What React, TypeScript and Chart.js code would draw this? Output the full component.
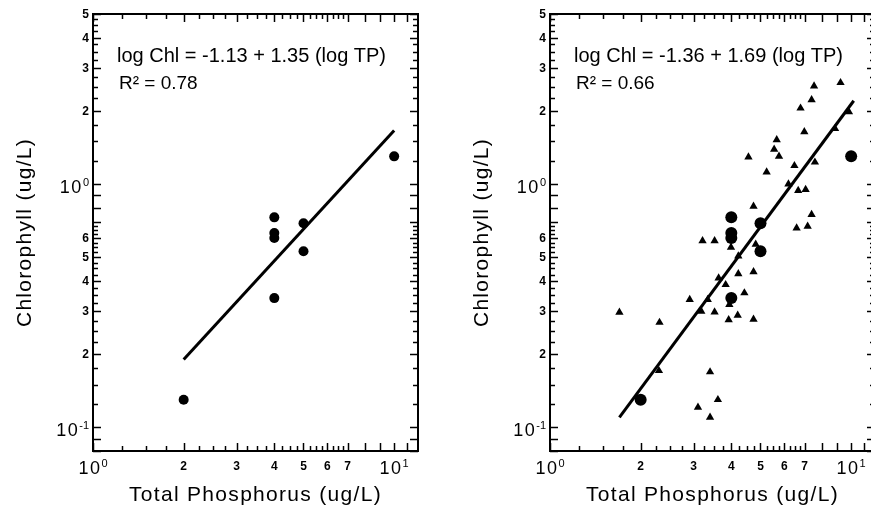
import React, { useEffect, useRef } from "react";
import { Chart, registerables } from "chart.js";
Chart.register(...registerables);

const FONT = '"Liberation Sans", Arial, Helvetica, sans-serif';

// ---- data ----
// circles (same lakes in both panels)
const studyTP = [2, 4, 4, 4, 5, 5, 4, 10];
const studyChl = [0.13, 0.73, 0.63, 0.6, 0.69, 0.53, 0.34, 1.3];

// triangles (right panel only)
const otherTP = [
  7.53, 9.22, 7.39, 6.79, 9.83, 8.84, 6.99, 5.66, 5.55, 5.76, 4.56, 6.48, 7.58, 5.24, 6.19,
  6.67, 7.06, 4.74, 7.39, 7.17, 6.59, 3.21, 3.52, 3.99, 4.82, 4.22, 3.63, 3.83, 4.22, 4.74,
  4.42, 2.91, 3.34, 3.18, 3.52, 3.92, 4.2, 4.74, 1.7, 2.31, 2.3, 3.4, 3.61, 3.1, 3.4, 3.94,
];
const otherChl = [
  2.53, 2.61, 2.22, 2.05, 1.98, 1.69, 1.64, 1.52, 1.39, 1.3, 1.29, 1.19, 1.23, 1.12, 1.0,
  0.94, 0.95, 0.81, 0.75, 0.67, 0.66, 0.585, 0.585, 0.55, 0.565, 0.506, 0.411, 0.386, 0.428, 0.436,
  0.357, 0.335, 0.335, 0.3, 0.298, 0.277, 0.289, 0.278, 0.297, 0.27, 0.171, 0.169, 0.13, 0.121, 0.11, 0.32,
];

// regression lines (end points)
const fitLeftTP = [2, 10];
const fitLeftChl = [0.19, 1.66];
const fitRightTP = [1.7, 10.2];
const fitRightChl = [0.11, 2.2];

// ---- axes ----
const xAxisMin = 1;
const xAxisMax = 12;
const yAxisMin = 0.08;
const yAxisMax = 5;
const xTickValues = [1, 2, 3, 4, 5, 6, 7, 10];
const xTickLabels = ["10^0", "2", "3", "4", "5", "6", "7", "10^1"];
const yTickValues = [0.1, 0.2, 0.3, 0.4, 0.5, 0.6, 1, 2, 3, 4, 5];
const yTickLabels = ["10^-1", "2", "3", "4", "5", "6", "10^0", "2", "3", "4", "5"];
const tickMantissas = [
  1, 1.25, 1.5, 1.75, 2, 2.25, 2.5, 2.75, 3, 3.25, 3.5, 3.75, 4, 4.25, 4.5, 4.75, 5, 5.25,
  5.5, 5.75, 6, 6.25, 6.5, 6.75, 7, 8, 9,
];
const xTickDecades = [1, 10];
const yTickDecades = [0.01, 0.1, 1];
const xExtraTicks = [11];

const xTitle = "Total Phosphorus (ug/L)";
const yTitle = "Chlorophyll (ug/L)";
const leftEquation = "log Chl = -1.13 + 1.35 (log TP)";
const leftR2 = "R\u00B2 = 0.78";
const rightEquation = "log Chl = -1.36 + 1.69 (log TP)";
const rightR2 = "R\u00B2 = 0.66";

type PanelProps = {
  left: number;
  equation: string;
  r2: string;
  fitTP: number[];
  fitChl: number[];
  showOther: boolean;
  circleRadius: number;
};

function tickMarkValues(decades: number[], min: number, max: number, extra: number[]) {
  const out: { v: number; major: boolean }[] = [];
  for (const d of decades)
    for (const m of tickMantissas) {
      const v = m * d;
      if (v >= min * 0.999 && v <= max * 1.001) out.push({ v, major: Number.isInteger(m) });
    }
  for (const v of extra) if (v >= min && v <= max) out.push({ v, major: true });
  return out;
}

function makePlugin(p: PanelProps) {
  return {
    id: "frameAndText",
    afterDatasetsDraw(chart: any) {
      const ctx: CanvasRenderingContext2D = chart.ctx;
      const c: any = ctx;
      const { left, right, top, bottom } = chart.chartArea;
      const xs = chart.scales.x;
      const ys = chart.scales.y;
      ctx.save();
      ctx.strokeStyle = "#000";
      ctx.fillStyle = "#000";
      ctx.lineWidth = 2;
      ctx.strokeRect(left, top, right - left, bottom - top);

      ctx.lineWidth = 1.5;
      const seg = (x1: number, y1: number, x2: number, y2: number) => {
        ctx.beginPath();
        ctx.moveTo(x1, y1);
        ctx.lineTo(x2, y2);
        ctx.stroke();
      };
      for (const t of tickMarkValues(xTickDecades, xAxisMin, xAxisMax, xExtraTicks)) {
        const px = Math.round(xs.getPixelForValue(t.v)) + 0.5;
        const len = t.major ? 8 : 5;
        seg(px, bottom, px, bottom - len);
        seg(px, top, px, top + len);
      }
      for (const t of tickMarkValues(yTickDecades, yAxisMin, yAxisMax, [])) {
        const py = Math.round(ys.getPixelForValue(t.v)) + 0.5;
        const len = t.major ? 8 : 5;
        seg(left, py, left + len, py);
        seg(right, py, right - len, py);
      }

      // tick labels
      const bigFont = `18px ${FONT}`;
      const expFont = `11px ${FONT}`;
      const smallFont = `bold 12px ${FONT}`;
      ctx.textBaseline = "alphabetic";
      xTickValues.forEach((v, i) => {
        const px = xs.getPixelForValue(v);
        const lab = xTickLabels[i];
        if (lab.includes("^")) {
          const [base, exp] = lab.split("^");
          c.letterSpacing = "1.5px";
          ctx.font = bigFont;
          const wb = ctx.measureText(base).width;
          c.letterSpacing = "0px";
          ctx.font = expFont;
          const we = ctx.measureText(exp).width;
          const start = px - (wb + we) / 2;
          ctx.textAlign = "left";
          c.letterSpacing = "1.5px";
          ctx.font = bigFont;
          ctx.fillText(base, start, bottom + 23);
          c.letterSpacing = "0px";
          ctx.font = expFont;
          ctx.fillText(exp, start + wb, bottom + 16);
        } else {
          ctx.font = smallFont;
          ctx.textAlign = "center";
          ctx.fillText(lab, px, bottom + 19);
        }
      });
      yTickValues.forEach((v, i) => {
        const py = ys.getPixelForValue(v);
        const lab = yTickLabels[i];
        const rx = left - 4;
        if (lab.includes("^")) {
          const [base, exp] = lab.split("^");
          ctx.font = expFont;
          const we = ctx.measureText(exp).width;
          ctx.textAlign = "right";
          ctx.fillText(exp, rx, py + 2);
          c.letterSpacing = "1.5px";
          ctx.font = bigFont;
          ctx.fillText(base, rx - we, py + 9);
          c.letterSpacing = "0px";
        } else {
          ctx.font = smallFont;
          ctx.textAlign = "right";
          ctx.fillText(lab, rx, py + 4);
        }
      });

      // axis titles
      c.letterSpacing = "1.3px";
      ctx.font = `21px ${FONT}`;
      ctx.textAlign = "center";
      ctx.fillText(xTitle, (left + right) / 2, bottom + 50);
      ctx.save();
      ctx.translate(left - 62, (top + bottom) / 2);
      ctx.rotate(-Math.PI / 2);
      ctx.fillText(yTitle, 0, 0);
      ctx.restore();
      c.letterSpacing = "0px";

      // equation text
      ctx.textAlign = "left";
      ctx.font = `20px ${FONT}`;
      ctx.fillText(p.equation, left + 24, top + 48);
      ctx.font = `19px ${FONT}`;
      ctx.fillText(p.r2, left + 26, top + 75);
      ctx.restore();
    },
  };
}

function Panel(p: PanelProps) {
  const ref = useRef<HTMLCanvasElement>(null);
  useEffect(() => {
    const canvas = ref.current;
    if (!canvas) return;
    const datasets: any[] = [
      {
        label: "study lakes",
        data: studyTP.map((x, i) => ({ x, y: studyChl[i] })),
        showLine: false,
        pointStyle: "circle",
        pointRadius: p.circleRadius,
        pointBackgroundColor: "#000",
        pointBorderColor: "#000",
        pointBorderWidth: 0,
      },
      {
        label: "regression",
        data: p.fitTP.map((x, i) => ({ x, y: p.fitChl[i] })),
        showLine: true,
        borderColor: "#000",
        borderWidth: 3,
        pointRadius: 0,
        fill: false,
      },
    ];
    if (p.showOther) {
      datasets.push({
        label: "other lakes",
        data: otherTP.map((x, i) => ({ x, y: otherChl[i] })),
        showLine: false,
        pointStyle: "triangle",
        pointRadius: 4.8,
        pointBackgroundColor: "#000",
        pointBorderColor: "#000",
        pointBorderWidth: 0,
      });
    }
    const chart = new Chart(canvas, {
      type: "scatter",
      data: { datasets },
      options: {
        responsive: false,
        animation: false,
        devicePixelRatio: 1,
        events: [],
        layout: { padding: { left: 93, top: 14, right: 22, bottom: 63 } },
        plugins: { legend: { display: false }, tooltip: { enabled: false } },
        scales: {
          x: { type: "logarithmic", min: xAxisMin, max: xAxisMax, display: false },
          y: { type: "logarithmic", min: yAxisMin, max: yAxisMax, display: false },
        },
      } as any,
      plugins: [makePlugin(p) as any],
    });
    return () => chart.destroy();
  }, []);
  return (
    <canvas
      ref={ref}
      width={440}
      height={514}
      style={{ position: "absolute", left: p.left, top: 0, width: 440, height: 514 }}
    />
  );
}

export default function App() {
  return (
    <div
      style={{
        position: "fixed",
        left: 0,
        top: 0,
        width: 871,
        height: 514,
        overflow: "hidden",
        background: "#fff",
      }}
    >
      <Panel
        left={0}
        equation={leftEquation}
        r2={leftR2}
        fitTP={fitLeftTP}
        fitChl={fitLeftChl}
        showOther={false}
        circleRadius={5}
      />
      <Panel
        left={457}
        equation={rightEquation}
        r2={rightR2}
        fitTP={fitRightTP}
        fitChl={fitRightChl}
        showOther={true}
        circleRadius={6}
      />
    </div>
  );
}
